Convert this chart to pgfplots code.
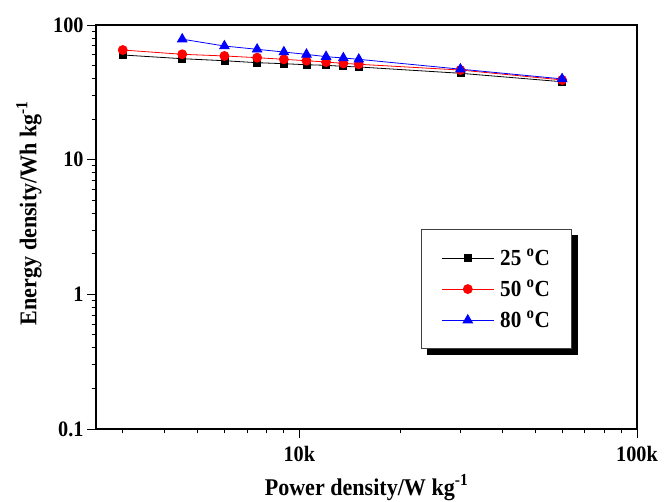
\documentclass[border=0pt]{standalone}
\usepackage{fontspec}
\setmainfont{Liberation Serif}[FakeStretch=0.92]
\usepackage{pgfplots}
\pgfplotsset{compat=1.18}
\usetikzlibrary{backgrounds}
\begin{document}
\begin{tikzpicture}
\begin{loglogaxis}[
  scale only axis, width=541pt, height=404pt,
  xmin=2500, xmax=100000, ymin=0.1, ymax=100,
  xtick={10000,100000}, xticklabels={\textbf{10k},\textbf{100k}},
  ytick={0.1,1,10,100}, yticklabels={\textbf{0.1},\textbf{1},\textbf{10},\textbf{100}},
  minor xtick={3000,4000,5000,6000,7000,8000,9000,20000,30000,40000,50000,60000,70000,80000,90000},
  minor ytick={0.2,0.3,0.4,0.5,0.6,0.7,0.8,0.9,2,3,4,5,6,7,8,9,20,30,40,50,60,70,80,90},
  xtick pos=bottom, ytick pos=left,
  tick align=outside, major tick length=9pt, minor tick length=4.5pt,
  axis line style={line width=1.3pt},
  every tick/.style={black, line width=1pt},
  tick label style={font=\fontsize{22}{24}\selectfont\bfseries},
  xticklabel style={yshift=-5pt},
  xlabel={Power density/W kg\textsuperscript{-1}},
  ylabel={Energy density/Wh kg\textsuperscript{-1}},
  label style={font=\fontsize{24}{26}\selectfont\bfseries},
  xlabel style={at={(axis description cs:0.5,0)}, anchor=base, yshift=-66pt},
  ylabel style={at={([xshift=-67pt,yshift=14pt]axis description cs:0,0.5)}, anchor=center},
  legend style={name=leg, at={(0.6007,0.495)}, anchor=north west, draw=black!75, line width=0.8pt,
    fill=white,
    font=\fontsize{23}{25}\selectfont\bfseries, inner xsep=20pt, inner ysep=17.5pt, row sep=9pt,
    /tikz/every odd column/.append style={column sep=4pt}},
  legend cell align=left,
  legend image code/.code={\draw[mark repeat=2,mark phase=2,#1] plot coordinates {(0pt,0pt)(26pt,0pt)(52pt,0pt)};},
]
\addplot[black, line width=0.8pt, mark=square*, mark size=3.5pt, mark options={solid}] coordinates {
(3000,59.9) (4500,56.2) (6000,54.3) (7500,52.5) (9000,51.6) (10500,50.7) (12000,50.2) (13500,49.3) (15000,48.8) (30000,43.8) (60000,37.9)};
\addlegendentry{25 \textsuperscript{o}C}
\addplot[red, line width=0.8pt, mark=*, mark size=4.5pt, mark options={solid}] coordinates {
(3000,65.2) (4500,60.6) (6000,58.9) (7500,57.2) (9000,55.6) (10500,54.3) (12000,53.1) (13500,51.9) (15000,51.1) (30000,46.3) (60000,39.1)};
\addlegendentry{50 \textsuperscript{o}C}
\addplot[blue, line width=0.8pt, mark=triangle*, mark size=5.5pt, mark options={solid}] coordinates {
(4500,78.5) (6000,69.8) (7500,66.0) (9000,63.0) (10500,60.5) (12000,58.2) (13500,56.9) (15000,55.6) (30000,47.0) (60000,39.8)};
\addlegendentry{80 \textsuperscript{o}C}
\end{loglogaxis}
\begin{scope}[on background layer]
\fill[black] ([shift={(6pt,-6pt)}]leg.south west) rectangle ([shift={(6pt,-6pt)}]leg.north east);
\end{scope}
\pgfresetboundingbox
\path[use as bounding box] (-96pt,-72pt) rectangle (570pt,429pt);
\end{tikzpicture}
\end{document}
